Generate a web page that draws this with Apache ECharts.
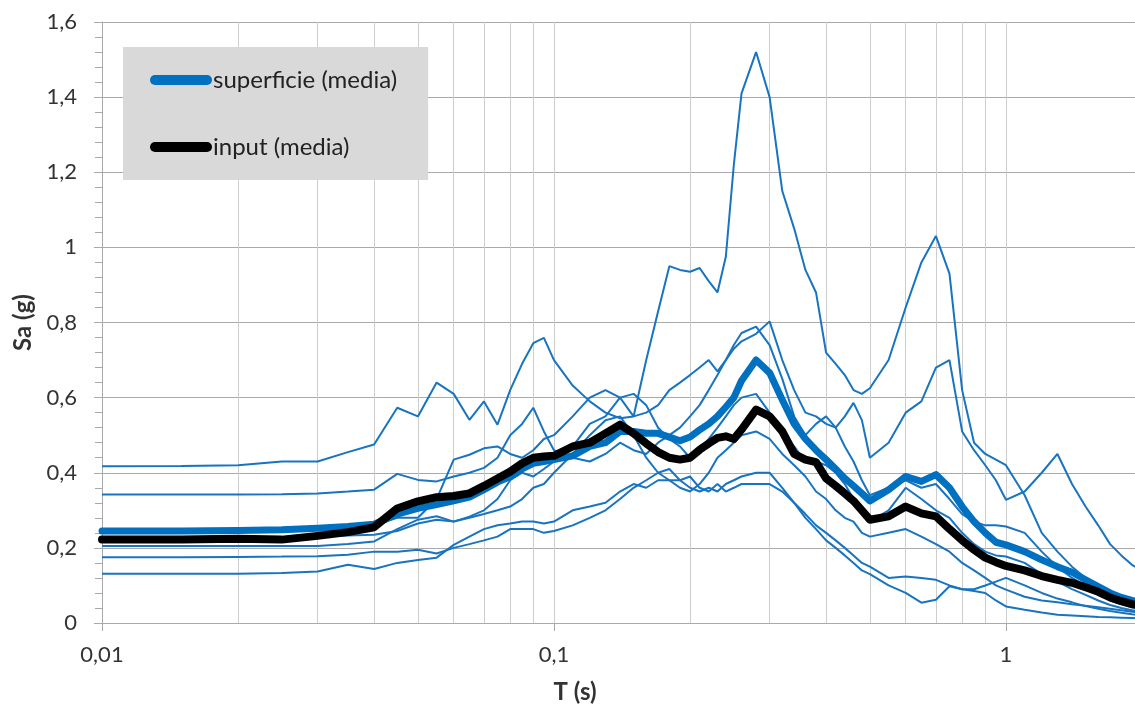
<!DOCTYPE html>
<html>
<head>
<meta charset="utf-8">
<script src="https://cdn.jsdelivr.net/npm/echarts@6/dist/echarts.min.js"></script>
<style>
  html, body { margin: 0; padding: 0; overflow: hidden; background: #fff; }
  #chart { width: 1142px; height: 715px; }
</style>
</head>
<body>
<div id="chart"></div>
<script>
// Periods T (s) at which the response spectra are sampled
const periods = [
  0.01, 0.015, 0.02, 0.025, 0.03, 0.035, 0.04, 0.045, 0.05, 0.055, 0.06, 0.065, 0.07, 0.075, 0.08, 0.085, 0.09, 0.095, 0.1,
  0.11, 0.12, 0.13, 0.14, 0.15, 0.16, 0.17, 0.18, 0.19, 0.2, 0.21, 0.22, 0.23, 0.24, 0.25, 0.26,
  0.28, 0.3, 0.32, 0.34, 0.36, 0.38, 0.4, 0.42, 0.44, 0.46, 0.48, 0.5,
  0.55, 0.6, 0.65, 0.7, 0.75, 0.8, 0.85, 0.9, 0.95, 1.0,
  1.1, 1.2, 1.3, 1.4, 1.5, 1.6, 1.7, 1.8, 1.9, 2.0
];

// Surface spectra, one per record, Sa (g)
const rec1 = [
  .417, .418, .42, .43, .43, .455, .475, .573, .55, .64, .61, .541, .59, .528, .62, .69, .745, .759, .70,
  .632, .59, .56, .545, .55, .56, .58, .62, .64, .66, .68, .70, .67, .70, .74, .772,
  .789, .74, .65, .55, .50, .53, .55, .52, .47, .43, .38, .34,
  .36, .38, .36, .37, .33, .29, .27, .26, .26, .257,
  .24, .19, .15, .12, .10, .08, .06, .05, .042, .036
];
const rec2 = [
  .342, .342, .342, .343, .345, .35, .355, .397, .381, .377, .39, .40, .413, .44, .50, .53, .573, .51, .46,
  .44, .43, .45, .48, .46, .45, .48, .50, .52, .55, .58, .62, .66, .70, .73, .75,
  .77, .803, .70, .62, .56, .55, .53, .52, .55, .586, .54, .44,
  .48, .56, .59, .68, .70, .51, .46, .42, .38, .328,
  .35, .40, .45, .37, .31, .26, .21, .18, .155, .14
];
const rec3 = [
  .245, .245, .246, .248, .25, .25, .26, .28, .28, .33, .435, .448, .465, .47, .45, .44, .46, .49, .50,
  .55, .60, .62, .60, .55, .70, .83, .95, .94, .935, .945, .91, .88, .975, 1.22, 1.41,
  1.52, 1.40, 1.15, 1.05, .94, .88, .72, .69, .66, .62, .61, .625,
  .70, .84, .96, 1.03, .93, .62, .48, .45, .435, .42,
  .34, .24, .19, .15, .12, .10, .08, .065, .055, .05
];
const rec4 = [
  .225, .225, .226, .228, .23, .233, .235, .245, .265, .275, .27, .283, .30, .33, .38, .40, .39, .41, .43,
  .47, .53, .55, .60, .61, .58, .52, .49, .47, .44, .46, .49, .52, .55, .58, .60,
  .61, .56, .50, .47, .43, .43, .42, .40, .37, .33, .30, .27,
  .30, .36, .33, .30, .28, .24, .21, .19, .18, .177,
  .16, .13, .11, .09, .075, .06, .048, .04, .034, .03
];
const rec5 = [
  .205, .205, .205, .205, .205, .21, .217, .25, .275, .284, .27, .28, .29, .30, .31, .33, .36, .37, .40,
  .45, .50, .54, .55, .50, .44, .40, .38, .36, .35, .37, .40, .44, .46, .48, .50,
  .51, .49, .45, .42, .39, .35, .33, .30, .28, .27, .24, .23,
  .24, .25, .23, .21, .19, .16, .14, .12, .10, .089,
  .07, .06, .055, .05, .046, .042, .038, .034, .03, .028
];
const rec6 = [
  .175, .175, .176, .177, .178, .182, .19, .19, .195, .185, .20, .21, .22, .23, .25, .25, .25, .24, .245,
  .26, .28, .30, .33, .36, .38, .40, .41, .38, .36, .35, .36, .35, .37, .38, .39,
  .40, .40, .36, .32, .28, .25, .22, .20, .18, .16, .14, .13,
  .10, .08, .054, .062, .098, .09, .085, .08, .06, .044,
  .035, .028, .022, .02, .018, .016, .015, .014, .013, .012
];
const rec7 = [
  .131, .131, .131, .133, .137, .155, .144, .16, .168, .174, .208, .23, .25, .26, .265, .27, .27, .265, .27,
  .30, .31, .32, .35, .37, .36, .38, .38, .38, .39, .36, .35, .37, .35, .36, .37,
  .37, .37, .35, .32, .29, .26, .24, .22, .20, .18, .16, .15,
  .12, .124, .12, .115, .10, .09, .09, .10, .11, .12,
  .10, .08, .065, .055, .045, .038, .032, .027, .023, .02
];

// Mean spectra
const surfaceMean = [
  .245, .245, .246, .248, .252, .257, .263, .29, .305, .315, .325, .335, .355, .375, .39, .41, .425, .43, .435,
  .445, .47, .48, .51, .51, .505, .505, .495, .485, .495, .514, .53, .55, .575, .60, .645,
  .70, .666, .594, .53, .49, .46, .435, .41, .385, .365, .345, .325,
  .355, .39, .377, .395, .36, .31, .27, .24, .215, .208,
  .19, .168, .15, .135, .115, .097, .08, .068, .06, .055
];
const inputMean = [
  .222, .222, .224, .222, .232, .242, .255, .305, .324, .335, .338, .345, .365, .385, .403, .425, .44, .443, .445,
  .47, .48, .505, .528, .505, .478, .455, .44, .435, .44, .461, .478, .493, .497, .49, .515,
  .568, .55, .51, .45, .435, .428, .385, .365, .345, .325, .30, .275,
  .284, .31, .292, .284, .25, .22, .195, .174, .162, .152,
  .14, .125, .115, .107, .095, .083, .068, .058, .05, .047
];

const records = [rec1, rec2, rec3, rec4, rec5, rec6, rec7];

// Intermediate gridlines of the logarithmic period axis
const minorGridT = [0.02, 0.03, 0.04, 0.05, 0.06, 0.07, 0.08, 0.09, 0.2, 0.3, 0.4, 0.5, 0.6, 0.7, 0.8, 0.9];

const FONT = 'Lato, "Open Sans", sans-serif';
const THIN_BLUE = '#1874C0';
const MEAN_BLUE = '#0070C0';
const HGRID = '#a9a9a9';
const VGRID = '#cdcdcd';

const toPairs = vals => periods.map((t, i) => [t, vals[i]]);
const comma = v => String(+(+v).toPrecision(6)).replace('.', ',');

const series = [];

// vertical gridlines at 2..9 x decade, below the curves
series.push({
  type: 'line',
  data: [],
  silent: true,
  z: 1,
  markLine: {
    silent: true,
    z: 1,
    symbol: ['none', 'none'],
    label: { show: false },
    lineStyle: { color: VGRID, width: 1, type: 'solid' },
    emphasis: { disabled: true },
    animation: false,
    data: minorGridT.map(t => ({ xAxis: t }))
  }
});

records.forEach((vals, k) => {
  series.push({
    name: 'rec' + (k + 1),
    type: 'line',
    data: toPairs(vals),
    showSymbol: false,
    symbol: 'none',
    silent: true,
    z: 2,
    color: THIN_BLUE,
    lineStyle: { width: 2, color: THIN_BLUE }
  });
});

series.push({
  name: 'superficie (media)',
  type: 'line',
  data: toPairs(surfaceMean),
  showSymbol: false,
  symbol: 'none',
  z: 3,
  color: MEAN_BLUE,
  lineStyle: { width: 7, color: MEAN_BLUE, cap: 'round', join: 'round' }
});

series.push({
  name: 'input (media)',
  type: 'line',
  data: toPairs(inputMean),
  showSymbol: false,
  symbol: 'none',
  z: 4,
  color: '#000000',
  lineStyle: { width: 8, color: '#000000', cap: 'round', join: 'round' }
});

const chart = echarts.init(document.getElementById('chart'), null, { renderer: 'canvas' });
chart.setOption({
  animation: false,
  backgroundColor: '#ffffff',
  textStyle: { fontFamily: FONT },
  grid: { left: 102, right: 0, top: 22, bottom: 92, containLabel: false },
  legend: {
    left: 123,
    top: 47,
    orient: 'vertical',
    backgroundColor: '#d9d9d9',
    padding: [21, 31, 21, 27],
    itemGap: 43,
    itemWidth: 62,
    itemHeight: 10,
    icon: 'path://M5,0H57A5,5 0 0 1 57,10H5A5,5 0 0 1 5,0Z',
    selectedMode: false,
    textStyle: { fontFamily: FONT, fontSize: 24, color: '#222', lineHeight: 24, padding: [0, 0, 0, -4] },
    data: ['superficie (media)', 'input (media)']
  },
  xAxis: {
    type: 'log',
    logBase: 10,
    min: 0.01,
    max: 2,
    axisLine: { show: true, onZero: false, lineStyle: { color: HGRID, width: 1 } },
    axisTick: { show: true, length: 8, lineStyle: { color: HGRID } },
    axisLabel: {
      fontFamily: FONT, fontSize: 22, color: '#333', margin: 21,
      showMaxLabel: false,
      formatter: v => comma(v)
    },
    splitLine: { show: true, lineStyle: { color: VGRID, width: 1 } },
    minorTick: { show: false },
    minorSplitLine: { show: false }
  },
  yAxis: {
    type: 'value',
    min: 0,
    max: 1.6,
    interval: 0.2,
    name: 'Sa (g)',
    nameLocation: 'middle',
    nameGap: 62,
    nameTextStyle: { fontFamily: FONT, fontSize: 24, fontWeight: 'bold', color: '#333' },
    axisLine: { show: true, lineStyle: { color: HGRID, width: 1 } },
    axisTick: { show: true, length: 8, lineStyle: { color: HGRID } },
    minorTick: { show: true, splitNumber: 5, length: 7, lineStyle: { color: HGRID } },
    axisLabel: {
      fontFamily: FONT, fontSize: 22, color: '#333', margin: 25,
      formatter: v => comma(+(+v).toFixed(2))
    },
    splitLine: { show: true, lineStyle: { color: HGRID, width: 1 } }
  },
  graphic: [{
    type: 'text',
    x: 575,
    y: 692,
    style: { text: 'T (s)', font: 'bold 24px ' + FONT, fill: '#333', align: 'center', verticalAlign: 'middle' }
  }],
  series: series
});
</script>
</body>
</html>
